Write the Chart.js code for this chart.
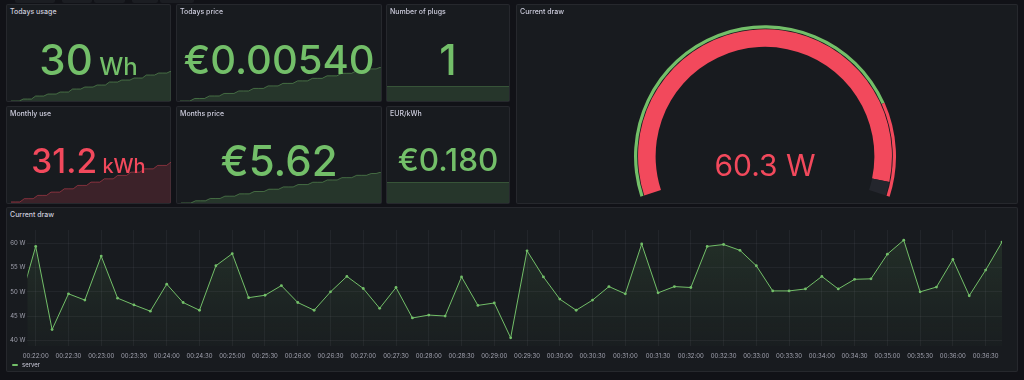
<!DOCTYPE html>
<html>
<head>
<meta charset="utf-8">
<script src="https://cdn.jsdelivr.net/npm/chart.js@4.4.1/dist/chart.umd.min.js"></script>
<style>
  html, body { margin: 0; padding: 0; width: 1024px; height: 380px; overflow: hidden; background: #111217; font-family: Inter, "Noto Sans", sans-serif; }
  .panel { position: absolute; background: #181b1f; border: 1px solid rgba(204,204,220,0.08); box-sizing: border-box; border-radius: 2px; }
  .title { position: absolute; font-size: 7px; font-weight: 500; color: #ccccdc; line-height: 10px; white-space: nowrap; }
  .val { position: absolute; text-align: center; white-space: pre; font-weight: 500; line-height: 1; }
  .box { position: absolute; }
  .tb { position: absolute; top: 0; height: 3px; background: #1b1d22; border-radius: 0 0 2px 2px; }
  .legend { position: absolute; left: 12px; top: 361px; font-size: 6px; color: #ccccdc; line-height: 8px; }
  .legend i { display: inline-block; width: 6px; height: 2px; background: #73bf69; vertical-align: middle; margin-right: 4px; border-radius: 1px; }
</style>
</head>
<body>
<div id="root"></div>
<script>
// stat panels
const statTitles = ['Todays usage', 'Todays price', 'Number of plugs', 'Monthly use', 'Months price', 'EUR/kWh'];
const statValues = ['30', '€0.00540', '1', '31.2', '€5.62', '€0.180'];
const statUnits = ['Wh', '', '', 'kWh', '', ''];
const statColors = ['green', 'green', 'green', 'red', 'green', 'green'];

// sparklines (cumulative counters)
const usageTodaySpark = [0, 0, 0, 2, 2, 2, 5, 5, 5, 7, 7, 7, 9, 9, 9, 12, 12, 12, 14, 14, 14, 16, 16, 16, 19, 19, 19, 21, 21, 21, 23, 23, 23, 26, 26, 26, 28, 28, 28, 30];
const priceTodaySpark = [0, 0, 0, 0.0004, 0.0004, 0.0004, 0.0008, 0.0008, 0.0008, 0.0012, 0.0012, 0.0012, 0.0016, 0.0016, 0.0016, 0.0020, 0.0020, 0.0020, 0.0024, 0.0024, 0.0024, 0.0028, 0.0028, 0.0028, 0.0032, 0.0032, 0.0032, 0.0036, 0.0036, 0.0036, 0.0040, 0.0040, 0.0040, 0.0044, 0.0044, 0.0044, 0.0048, 0.0048, 0.0048, 0.0051, 0.0051, 0.0054];
const plugsSpark = [1, 1];
const monthUseSpark = [0.8, 0.8, 0.8, 3.3, 3.3, 3.3, 5.8, 5.8, 5.8, 8.3, 8.3, 8.3, 10.8, 10.8, 10.8, 13.4, 13.4, 13.4, 15.9, 15.9, 15.9, 18.4, 18.4, 18.4, 21.0, 21.0, 21.0, 23.5, 23.5, 23.5, 26.0, 26.0, 26.0, 28.6, 28.6, 28.6, 31.2];
const monthPriceSpark = [0, 0, 0, 0.40, 0.40, 0.40, 0.82, 0.82, 0.82, 1.24, 1.24, 1.24, 1.66, 1.66, 1.66, 2.08, 2.08, 2.08, 2.50, 2.50, 2.50, 2.92, 2.92, 2.92, 3.34, 3.34, 3.34, 3.76, 3.76, 3.76, 4.18, 4.18, 4.18, 4.60, 4.60, 4.60, 5.02, 5.02, 5.02, 5.35, 5.35, 5.62];
const eurKwhSpark = [0.18, 0.18];

// gauge
const gaugeTitle = 'Current draw';
const gaugeValue = 60.3;
const gaugeMax = 62.1;
const gaugeThreshold = 50;

// time series: Current draw, one sample every 15 s
const drawTimes = ['00:21:45', '00:22:00', '00:22:15', '00:22:30', '00:22:45', '00:23:00', '00:23:15', '00:23:30', '00:23:45',
  '00:24:00', '00:24:15', '00:24:30', '00:24:45', '00:25:00', '00:25:15', '00:25:30', '00:25:45', '00:26:00', '00:26:15',
  '00:26:30', '00:26:45', '00:27:00', '00:27:15', '00:27:30', '00:27:45', '00:28:00', '00:28:15', '00:28:30', '00:28:45',
  '00:29:00', '00:29:15', '00:29:30', '00:29:45', '00:30:00', '00:30:15', '00:30:30', '00:30:45', '00:31:00', '00:31:15',
  '00:31:30', '00:31:45', '00:32:00', '00:32:15', '00:32:30', '00:32:45', '00:33:00', '00:33:15', '00:33:30', '00:33:45',
  '00:34:00', '00:34:15', '00:34:30', '00:34:45', '00:35:00', '00:35:15', '00:35:30', '00:35:45', '00:36:00', '00:36:15',
  '00:36:30', '00:36:45'];
const drawValues = [47.5, 59.4, 42.2, 49.6, 48.3, 57.4, 48.7, 47.3, 46.0,
  51.6, 47.8, 46.2, 55.4, 57.9, 48.8, 49.3, 51.3, 47.8, 46.2,
  50.0, 53.2, 50.7, 46.6, 50.9, 44.6, 45.2, 45.0, 53.1, 47.2,
  47.7, 40.5, 58.5, 53.1, 48.5, 46.2, 48.3, 51.1, 49.6, 59.9,
  49.8, 51.1, 50.9, 59.4, 59.8, 58.6, 55.4, 50.2, 50.2, 50.6,
  53.2, 50.6, 52.6, 52.7, 57.8, 60.7, 50.0, 51.0, 56.7, 49.2,
  54.5, 60.3];
const seriesName = 'server';
const yTicks = [40, 45, 50, 55, 60];

const GREEN = '#73bf69', RED = '#f2495c';
const colorOf = c => c === 'red' ? RED : GREEN;
const rgba = (c, a) => c === 'red' ? `rgba(242,73,92,${a})` : `rgba(115,191,105,${a})`;

Chart.defaults.font.family = 'Inter, "Noto Sans", sans-serif';
Chart.defaults.animation = false;

const root = document.getElementById('root');
function el(cls, css, html) {
  const d = document.createElement('div');
  d.className = cls;
  Object.assign(d.style, css);
  if (html !== undefined) d.innerHTML = html;
  root.appendChild(d);
  return d;
}
function canvasBox(l, t, w, h) {
  const d = el('box', { left: l + 'px', top: t + 'px', width: w + 'px', height: h + 'px' });
  const c = document.createElement('canvas');
  d.appendChild(c);
  return c;
}

// ghost toolbar buttons along the top edge
[[15, 40], [62, 30], [94, 31], [132, 26], [160, 34]].forEach(([l, w]) => el('tb', { left: l + 'px', width: w + 'px' }));

// layout: panel rects, value baseline and font sizes, sparkline boxes
const statLayout = [
  { x: 6, y: 4, w: 165, h: 98, base: 75, fs: 42, us: 24, sp: [11, 70, 160, 31] },
  { x: 176, y: 4, w: 206, h: 98, base: 75, fs: 40, us: 0, sp: [180, 66, 201, 35] },
  { x: 386, y: 4, w: 124, h: 98, base: 75, fs: 42, us: 0, sp: [387, 85, 122, 16] },
  { x: 6, y: 106, w: 165, h: 98, base: 174, fs: 33.5, us: 20, sp: [11, 161, 160, 42] },
  { x: 176, y: 106, w: 206, h: 98, base: 176.5, fs: 42, us: 0, sp: [181, 171, 200, 32] },
  { x: 386, y: 106, w: 124, h: 98, base: 171.5, fs: 31.5, us: 0, sp: [387, 181, 122, 22] }
];
const sparks = [usageTodaySpark, priceTodaySpark, plugsSpark, monthUseSpark, monthPriceSpark, eurKwhSpark];

statLayout.forEach((L, i) => {
  el('panel', { left: L.x + 'px', top: L.y + 'px', width: L.w + 'px', height: L.h + 'px' });
  const s = sparks[i];
  const [sl, st, sw, sh] = L.sp;
  new Chart(canvasBox(sl, st, sw, sh), {
    type: 'line',
    data: {
      labels: s.map((_, k) => k),
      datasets: [{
        data: s,
        borderColor: rgba(statColors[i], 0.45),
        backgroundColor: rgba(statColors[i], 0.17),
        borderWidth: 1,
        pointRadius: 0,
        fill: 'start',
        tension: 0
      }]
    },
    options: {
      responsive: true,
      maintainAspectRatio: false,
      layout: { padding: { top: 1 } },
      scales: {
        x: { display: false, offset: false },
        y: { display: false, min: 0, max: Math.max(...s) }
      },
      plugins: { legend: { display: false }, tooltip: { enabled: false } }
    }
  });
  el('title', { left: (L.x + 4) + 'px', top: (L.y + 3) + 'px' }, statTitles[i]);
  const unit = statUnits[i] ? `<span style="font-size:${L.us}px"> ${statUnits[i]}</span>` : '';
  el('val', {
    left: L.x + 'px', width: L.w + 'px', top: (L.base - 0.864 * L.fs) + 'px',
    fontSize: L.fs + 'px', color: colorOf(statColors[i])
  }, statValues[i] + unit);
});

// gauge panel
el('panel', { left: '516px', top: '4px', width: '502px', height: '200px' });
el('title', { left: '520px', top: '7px' }, gaugeTitle);
new Chart(canvasBox(634, 25, 262, 172), {
  type: 'doughnut',
  data: {
    datasets: [
      { data: [gaugeThreshold, gaugeMax - gaugeThreshold], backgroundColor: [GREEN, RED], weight: 3.2 },
      { data: [gaugeMax], backgroundColor: ['rgba(0,0,0,0)'], weight: 0.8 },
      { data: [gaugeValue, gaugeMax - gaugeValue], backgroundColor: [RED, '#24262d'], weight: 17.5 }
    ]
  },
  options: {
    responsive: true,
    maintainAspectRatio: false,
    rotation: -108,
    circumference: 216,
    cutout: '83.5%',
    borderWidth: 0,
    layout: { padding: 0 },
    elements: { arc: { borderWidth: 0 } },
    plugins: { legend: { display: false }, tooltip: { enabled: false } }
  }
});
el('val', { left: '615px', width: '300px', top: (176 - 0.864 * 30) + 'px', fontSize: '30px', fontWeight: 400, color: RED },
  gaugeValue.toFixed(1) + ' W');

// time series panel
el('panel', { left: '6px', top: '207px', width: '1012px', height: '165px' });
el('title', { left: '10px', top: '210px' }, 'Current draw');
const toSec = t => { const [h, m, s] = t.split(':').map(Number); return h * 3600 + m * 60 + s; };
const pad2 = n => String(n).padStart(2, '0');
const fmt = v => pad2(Math.floor(v / 3600)) + ':' + pad2(Math.floor(v / 60) % 60) + ':' + pad2(v % 60);

new Chart(canvasBox(6, 207, 1012, 165), {
  type: 'line',
  data: {
    datasets: [{
      label: seriesName,
      data: drawTimes.map((t, i) => ({ x: toSec(t), y: drawValues[i] })),
      borderColor: GREEN,
      borderWidth: 1,
      pointRadius: 1.4,
      pointBackgroundColor: GREEN,
      pointBorderWidth: 0,
      tension: 0,
      fill: 'start',
      backgroundColor: ctx => {
        const area = ctx.chart.chartArea;
        if (!area) return 'rgba(115,191,105,0.08)';
        const g = ctx.chart.ctx.createLinearGradient(0, area.top, 0, area.bottom);
        g.addColorStop(0, 'rgba(115,191,105,0.13)');
        g.addColorStop(1, 'rgba(115,191,105,0.02)');
        return g;
      }
    }]
  },
  options: {
    responsive: true,
    maintainAspectRatio: false,
    layout: { padding: { left: 0, right: 16, top: 23, bottom: 6 } },
    scales: {
      x: {
        type: 'linear',
        min: 1312.3,
        max: toSec(drawTimes[drawTimes.length - 1]),
        afterFit: s => { s.height = 20; },
        afterBuildTicks: s => { s.ticks = s.ticks.filter(t => Math.abs(t.value % 30) < 0.01); },
        border: { display: false },
        grid: { color: 'rgba(204,204,220,0.06)', drawTicks: false },
        ticks: {
          stepSize: 30, includeBounds: false, autoSkip: false, maxRotation: 0, padding: 7,
          color: 'rgba(204,204,220,0.75)', font: { size: 6 },
          callback: v => fmt(Math.round(v))
        }
      },
      y: {
        min: 38.8,
        max: 62.8,
        afterFit: s => { s.width = 21.3; },
        afterBuildTicks: s => { s.ticks = yTicks.map(v => ({ value: v })); },
        border: { display: false },
        grid: { color: 'rgba(204,204,220,0.06)', drawTicks: false },
        ticks: {
          padding: 2, color: 'rgba(204,204,220,0.75)', font: { size: 6 },
          callback: v => v + ' W'
        }
      }
    },
    plugins: { legend: { display: false }, tooltip: { enabled: false } }
  }
});
el('legend', {}, '<i></i>' + seriesName);
</script>
</body>
</html>
